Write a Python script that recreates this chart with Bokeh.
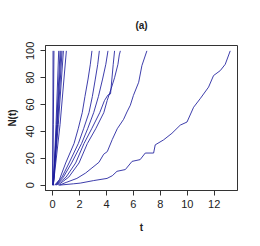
from bokeh.plotting import figure
from bokeh.embed import file_html
from bokeh.resources import INLINE
from bokeh.models import Range1d, FixedTicker

# --- data: sample paths N(t) ---
fast1_t = [0.0, 0.02, 0.03]
fast1_n = [0, 50, 100]
fast2_t = [0.0, 0.05, 0.1]
fast2_n = [0, 45, 100]
fast3_t = [0.05, 0.25, 0.45]
fast3_n = [0, 45, 100]
fast4_t = [0.05, 0.3, 0.55]
fast4_n = [0, 45, 100]
fast5_t = [0.05, 0.33, 0.62]
fast5_n = [0, 45, 100]
fast6_t = [0.05, 0.37, 0.7]
fast6_n = [0, 45, 100]
fast7_t = [0.05, 0.42, 0.8]
fast7_n = [0, 45, 100]
fast8_t = [0.05, 0.55, 1.02]
fast8_n = [0, 45, 100]

m1_t = [0.15, 0.5, 0.97, 1.59, 1.9, 2.2, 2.4, 2.63, 2.8, 2.92]
m1_n = [0, 4, 16.5, 31, 42, 54, 66, 79, 90, 100]
m2_t = [0.2, 0.7, 1.22, 1.91, 2.3, 2.7, 2.95, 3.17, 3.35, 3.47]
m2_n = [0, 6, 16.5, 31, 42, 54, 66, 79, 90, 100]
m3_t = [0.25, 0.8, 1.41, 2.15, 2.6, 3.05, 3.4, 3.71, 3.95, 4.11]
m3_n = [0, 6, 16.5, 31, 42, 54, 66, 79, 90, 100]
m4_t = [0.3, 1.0, 1.71, 2.33, 2.9, 3.5, 3.85, 4.1, 4.3, 4.4, 4.5, 4.6]
m4_n = [0, 6, 16.5, 31, 42, 54, 63, 67, 68, 79, 90, 100]
m5_t = [0.4, 1.2, 1.96, 2.58, 3.2, 3.8, 4.05, 4.35, 4.6, 4.85, 4.95, 5.03]
m5_n = [0, 6, 16.5, 31, 42, 54, 63, 72, 80, 90, 97, 100]

s7_t = [0.5, 1.0, 1.8, 2.45, 2.92, 3.44, 3.79, 4.06, 4.43, 4.8, 5.27, 5.52, 5.77, 6.0, 6.39, 6.63, 7.0]
s7_n = [0, 2, 5, 9, 12.8, 17, 23, 25, 34, 42, 49, 54.5, 59.5, 66.8, 76.6, 89, 100]

s13_t = [0.5, 1.56, 2.05, 3.05, 4.04, 4.43, 4.78, 5.4, 5.9, 6.5, 6.88, 7.5, 7.62, 8.24,
         8.86, 9.48, 9.98, 10.47, 10.96, 11.58, 11.95, 12.45, 12.82, 13.19]
s13_n = [0, 1, 1.5, 3.4, 5, 7, 10.3, 11.6, 17.7, 19, 23.9, 23.9, 30, 33.7,
         38.6, 44.7, 47, 58, 64.4, 73, 81.6, 85.3, 90, 100]

paths = [
    (fast1_t, fast1_n), (fast2_t, fast2_n), (fast3_t, fast3_n), (fast4_t, fast4_n),
    (fast5_t, fast5_n), (fast6_t, fast6_n), (fast7_t, fast7_n), (fast8_t, fast8_n),
    (m1_t, m1_n), (m2_t, m2_n), (m3_t, m3_n), (m4_t, m4_n), (m5_t, m5_n),
    (s7_t, s7_n), (s13_t, s13_n),
]

x_ticks = [0, 2, 4, 6, 8, 10, 12]
y_ticks = [0, 20, 40, 60, 80, 100]

p = figure(width=244, height=238, output_backend="svg", toolbar_location=None,
           x_range=Range1d(-0.53, 13.73), y_range=Range1d(-4, 104),
           min_border_left=45, min_border_right=7, min_border_top=45, min_border_bottom=48,
           title="(a)")

for t, n in paths:
    p.line(t, n, line_color="#1c1c9c", line_width=1.0, line_alpha=0.85)

p.grid.visible = False
p.outline_line_color = "#333333"
p.outline_line_width = 1
p.background_fill_color = "white"
p.border_fill_color = "white"

p.title.align = "center"
p.title.text_font = "Liberation Sans"
p.title.text_font_size = "10px"
p.title.text_font_style = "bold"
p.title.text_color = "#222222"
p.title.standoff = 29

for ax in (p.xaxis[0], p.yaxis[0]):
    ax.axis_line_color = "#333333"
    ax.major_tick_line_color = "#333333"
    ax.minor_tick_line_color = None
    ax.major_tick_out = 5
    ax.major_tick_in = 0
    ax.major_label_text_font = "Liberation Sans"
    ax.major_label_text_font_size = "11px"
    ax.major_label_text_color = "#222222"
    ax.axis_label_text_font = "Liberation Sans"
    ax.axis_label_text_font_size = "10px"
    ax.axis_label_text_font_style = "bold"
    ax.axis_label_text_color = "#222222"

p.xaxis[0].ticker = FixedTicker(ticks=x_ticks)
p.yaxis[0].ticker = FixedTicker(ticks=y_ticks)
p.xaxis[0].axis_label = "t"
p.yaxis[0].axis_label = "N(t)"
p.xaxis[0].major_label_standoff = 4
p.xaxis[0].axis_label_standoff = 11
p.yaxis[0].major_label_orientation = "vertical"
p.yaxis[0].major_label_standoff = 6
p.yaxis[0].axis_label_standoff = 6

open("out.html", "w").write(file_html(p, INLINE))
